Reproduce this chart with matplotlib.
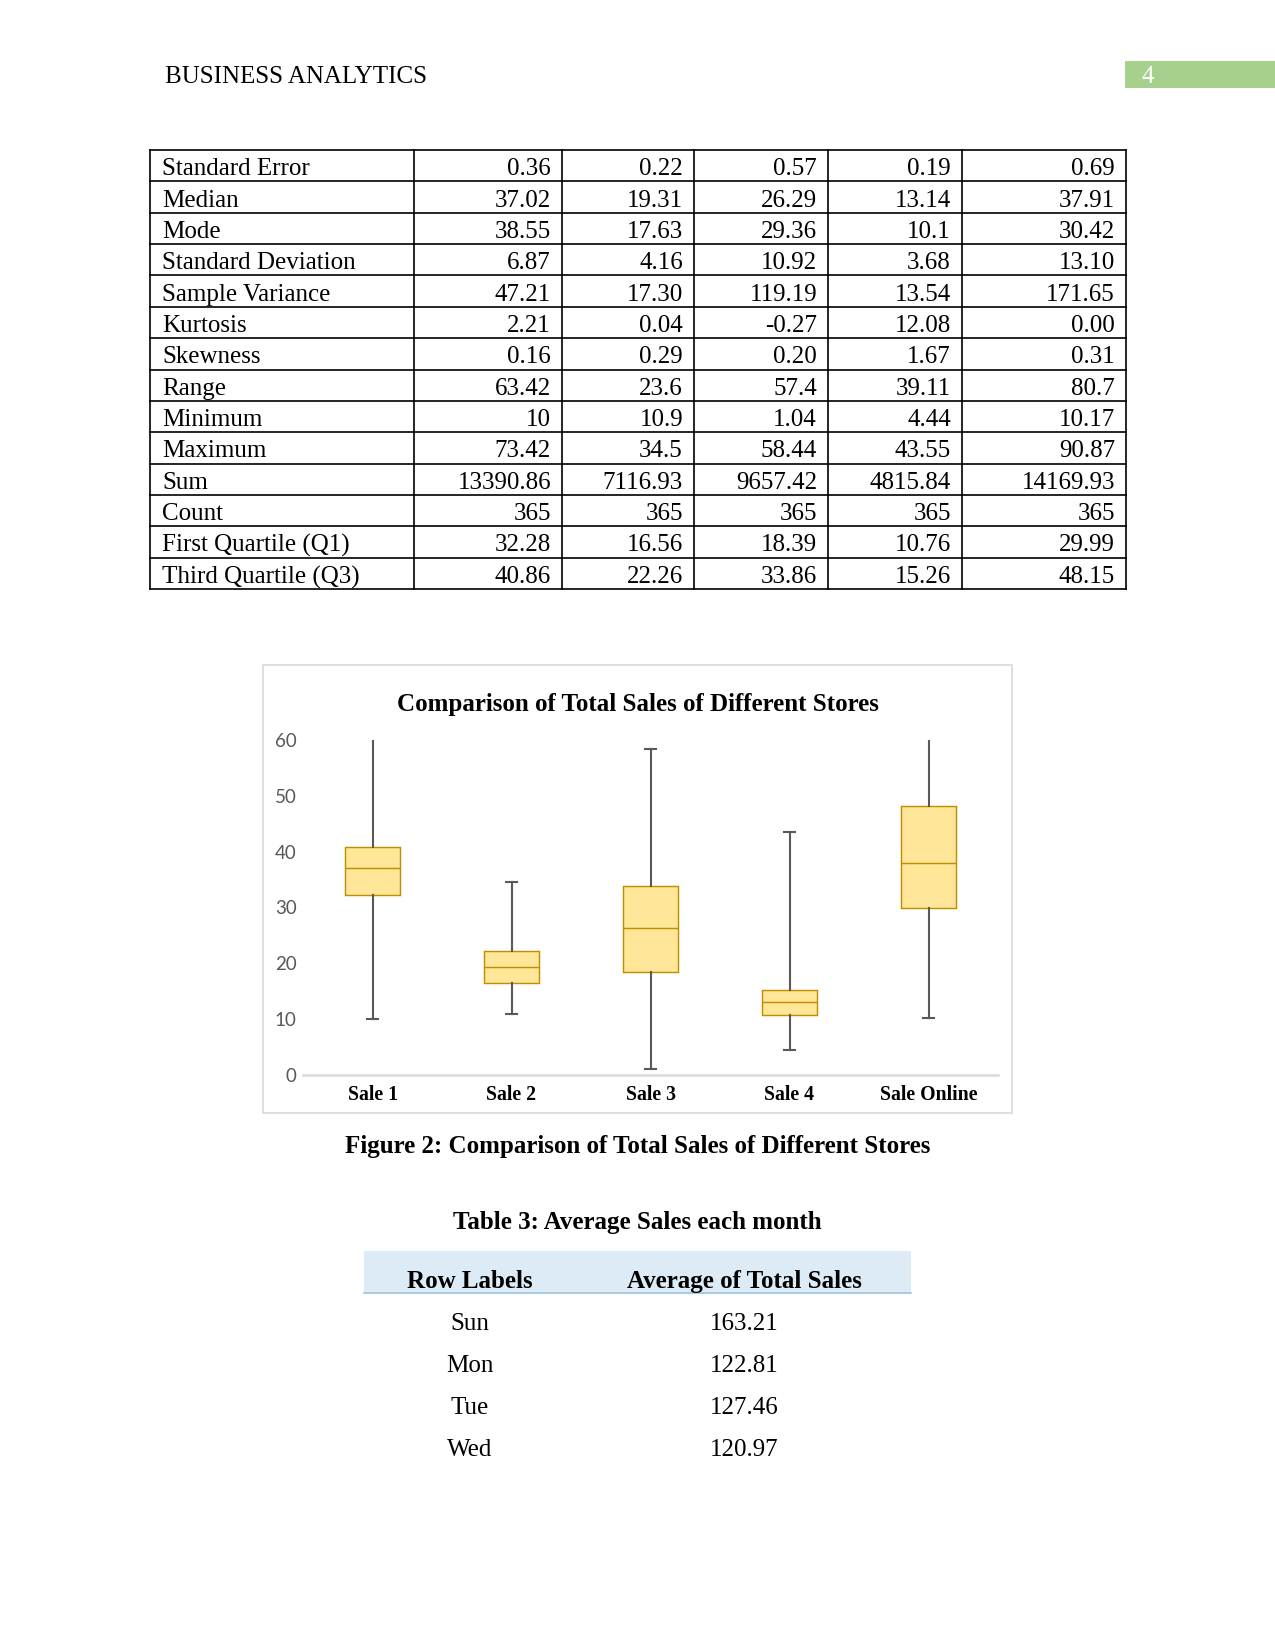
import matplotlib.pyplot as plt
from matplotlib.patches import Rectangle

# ---- data ----
stat_names = ["Standard Error", "Median", "Mode", "Standard Deviation", "Sample Variance",
              "Kurtosis", "Skewness", "Range", "Minimum", "Maximum", "Sum", "Count",
              "First Quartile (Q1)", "Third Quartile (Q3)"]
sale1 = ["0.36", "37.02", "38.55", "6.87", "47.21", "2.21", "0.16", "63.42", "10", "73.42", "13390.86", "365", "32.28", "40.86"]
sale2 = ["0.22", "19.31", "17.63", "4.16", "17.30", "0.04", "0.29", "23.6", "10.9", "34.5", "7116.93", "365", "16.56", "22.26"]
sale3 = ["0.57", "26.29", "29.36", "10.92", "119.19", "-0.27", "0.20", "57.4", "1.04", "58.44", "9657.42", "365", "18.39", "33.86"]
sale4 = ["0.19", "13.14", "10.1", "3.68", "13.54", "12.08", "1.67", "39.11", "4.44", "43.55", "4815.84", "365", "10.76", "15.26"]
online = ["0.69", "37.91", "30.42", "13.10", "171.65", "0.00", "0.31", "80.7", "10.17", "90.87", "14169.93", "365", "29.99", "48.15"]

stores = ["Sale 1", "Sale 2", "Sale 3", "Sale 4", "Sale Online"]
mins = [10, 10.9, 1.04, 4.44, 10.17]
q1s = [32.28, 16.56, 18.39, 10.76, 29.99]
meds = [37.02, 19.31, 26.29, 13.14, 37.91]
q3s = [40.86, 22.26, 33.86, 15.26, 48.15]
maxs = [73.42, 34.5, 58.44, 43.55, 90.87]

days = ["Sun", "Mon", "Tue", "Wed"]
day_avgs = ["163.21", "122.81", "127.46", "120.97"]

SERIF = "Liberation Serif"

fig = plt.figure(figsize=(8.5, 11), dpi=150)
page = fig.add_axes([0, 0, 1, 1])
page.set_xlim(0, 1275)
page.set_ylim(1650, 0)
page.axis("off")

# header
page.text(165, 77, "BUSINESS ANALYTICS", fontsize=12, family=SERIF, va="center")
page.add_patch(Rectangle((1125, 61), 150, 27, color="#a8d08d", lw=0))
page.text(1141, 77, "4", fontsize=12, family=SERIF, va="center", color="white")

# stats table
col_x = [150, 414, 562, 694, 828, 962, 1126]
top, bot = 150, 589
rh = (bot - top) / len(stat_names)
for i in range(len(stat_names) + 1):
    page.plot([col_x[0], col_x[-1]], [top + i * rh] * 2, color="black", lw=0.8)
for x in col_x:
    page.plot([x, x], [top, bot], color="black", lw=0.8)
cols = [sale1, sale2, sale3, sale4, online]
for i, name in enumerate(stat_names):
    y = top + (i + 0.5) * rh + 1
    page.text(col_x[0] + 12, y, name, fontsize=12, family=SERIF, va="center_baseline")
    for j, col in enumerate(cols):
        page.text(col_x[j + 2] - 11, y, col[i], fontsize=12, family=SERIF,
                  va="center_baseline", ha="right")

# chart frame and title
page.add_patch(Rectangle((263, 665), 749, 448, fill=False, edgecolor="#d9d9d9", lw=0.8))
page.text(637.5, 705, "Comparison of Total Sales of Different Stores", fontsize=12,
          family=SERIF, weight="bold", ha="center", va="center")

ax = fig.add_axes([303 / 1275, (1650 - 1075) / 1650, 695 / 1275, 335 / 1650])
stats = []
for i in range(len(stores)):
    stats.append(dict(whislo=mins[i], q1=q1s[i], med=meds[i], q3=q3s[i],
                      whishi=maxs[i], fliers=[]))
ax.bxp(stats, positions=range(len(stores)), widths=0.39, capwidths=0.08,
       patch_artist=True, showfliers=False,
       boxprops=dict(facecolor="#ffe699", edgecolor="#bf9000", lw=0.7),
       medianprops=dict(color="#bf9000", lw=0.7),
       whiskerprops=dict(color="#595959", lw=1.0),
       capprops=dict(color="#595959", lw=1.0))
ax.set_xlim(-0.5, 4.5)
ax.set_ylim(0, 60)
ax.set_yticks(range(0, 61, 10))
ax.set_xticks(range(len(stores)))
ax.set_xticklabels(stores, family=SERIF, weight="bold", fontsize=9.5)
for lab in ax.get_yticklabels():
    lab.set_family("Lato")
    lab.set_fontsize(9)
    lab.set_color("#595959")
ax.tick_params(axis="both", length=0)
ax.tick_params(axis="y", pad=3)
ax.tick_params(axis="x", pad=5)
for s in ["top", "right", "left"]:
    ax.spines[s].set_visible(False)
ax.spines["bottom"].set_color("#d9d9d9")
ax.spines["bottom"].set_linewidth(1.2)
ax.patch.set_alpha(0)

# captions
page.text(637.5, 1147, "Figure 2: Comparison of Total Sales of Different Stores", fontsize=12,
          family=SERIF, weight="bold", ha="center", va="center")
page.text(637.5, 1222, "Table 3: Average Sales each month", fontsize=12,
          family=SERIF, weight="bold", ha="center", va="center")

# pivot table
page.add_patch(Rectangle((364, 1251), 547, 42, color="#ddebf7", lw=0))
page.plot([364, 911], [1293, 1293], color="#9bc2e6", lw=0.8)
page.text(470, 1279, "Row Labels", fontsize=12, family=SERIF, weight="bold",
          ha="center", va="center_baseline")
page.text(744, 1279, "Average of Total Sales", fontsize=12, family=SERIF, weight="bold",
          ha="center", va="center_baseline")
for i, d in enumerate(days):
    y = 1322 + i * 42
    page.text(470, y, d, fontsize=12, family=SERIF, ha="center", va="center_baseline")
    page.text(744, y, day_avgs[i], fontsize=12, family=SERIF, ha="center", va="center_baseline")

fig.savefig("out.png", dpi=150)
